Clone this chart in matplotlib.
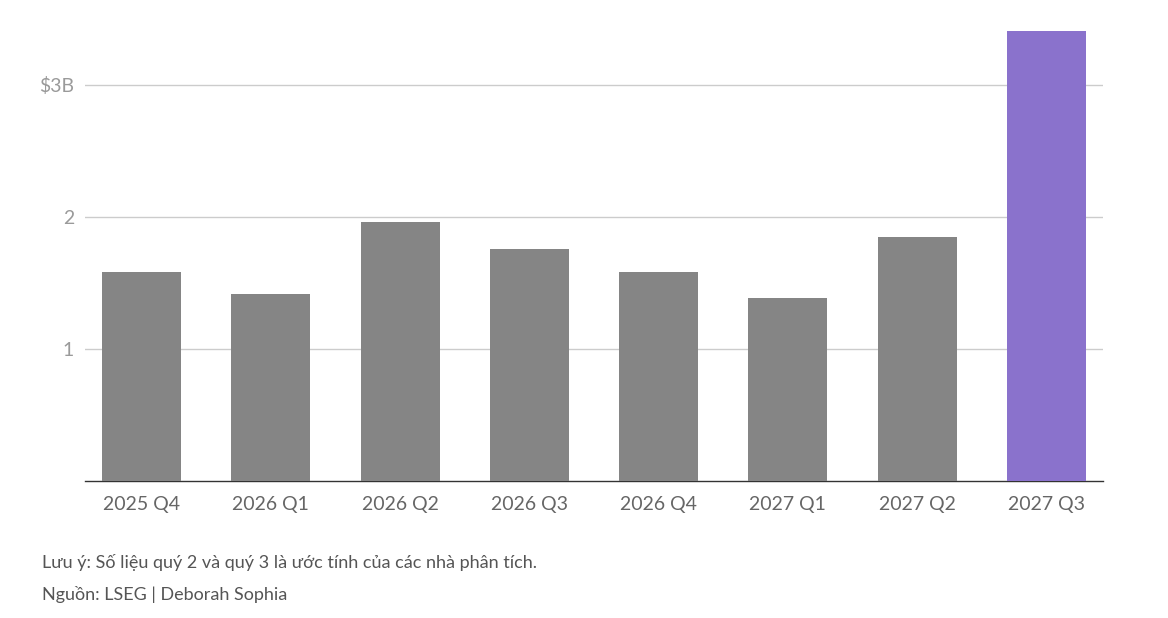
import matplotlib.pyplot as plt

plt.rcParams['font.family'] = ['Lato', 'DejaVu Sans']

quarters = ["2025 Q4", "2026 Q1", "2026 Q2", "2026 Q3", "2026 Q4", "2027 Q1", "2027 Q2", "2027 Q3"]
values = [1.58, 1.42, 1.96, 1.76, 1.58, 1.39, 1.85, 3.41]
bar_colors = ["#858585"] * 7 + ["#8a72cc"]
ytick_vals = [1, 2, 3]
ytick_labels = ["1", "2", "$3B"]

fig = plt.figure(figsize=(11.68, 6.18), dpi=100)
ax = fig.add_axes([0.0728, 0.2217, 0.8715, 0.7369])

x = range(len(quarters))
ax.bar(x, values, width=0.61, color=bar_colors, zorder=3)

ax.set_xlim(-0.437, 7.437)
ax.set_ylim(0, 3.45)
ax.set_yticks(ytick_vals)
ax.set_yticklabels(ytick_labels)
ax.set_xticks(list(x))
ax.set_xticklabels(quarters)

ax.grid(axis='y', color='#cccccc', linewidth=1, zorder=0)
for side in ['top', 'right', 'left']:
    ax.spines[side].set_visible(False)
ax.spines['bottom'].set_color('#333333')
ax.spines['bottom'].set_linewidth(1)

ax.tick_params(axis='y', length=0, pad=8, labelsize=14, labelcolor='#9a9a9a')
ax.tick_params(axis='x', length=0, pad=11, labelsize=14, labelcolor='#666666')

fig.text(42 / 1168, 1 - 568 / 618, "Lưu ý: Số liệu quý 2 và quý 3 là ước tính của các nhà phân tích.",
         fontsize=13, color='#555555', va='baseline')
fig.text(42 / 1168, 1 - 600 / 618, "Nguồn: LSEG | Deborah Sophia",
         fontsize=13, color='#555555', va='baseline')

fig.savefig("out.png", dpi=100)
